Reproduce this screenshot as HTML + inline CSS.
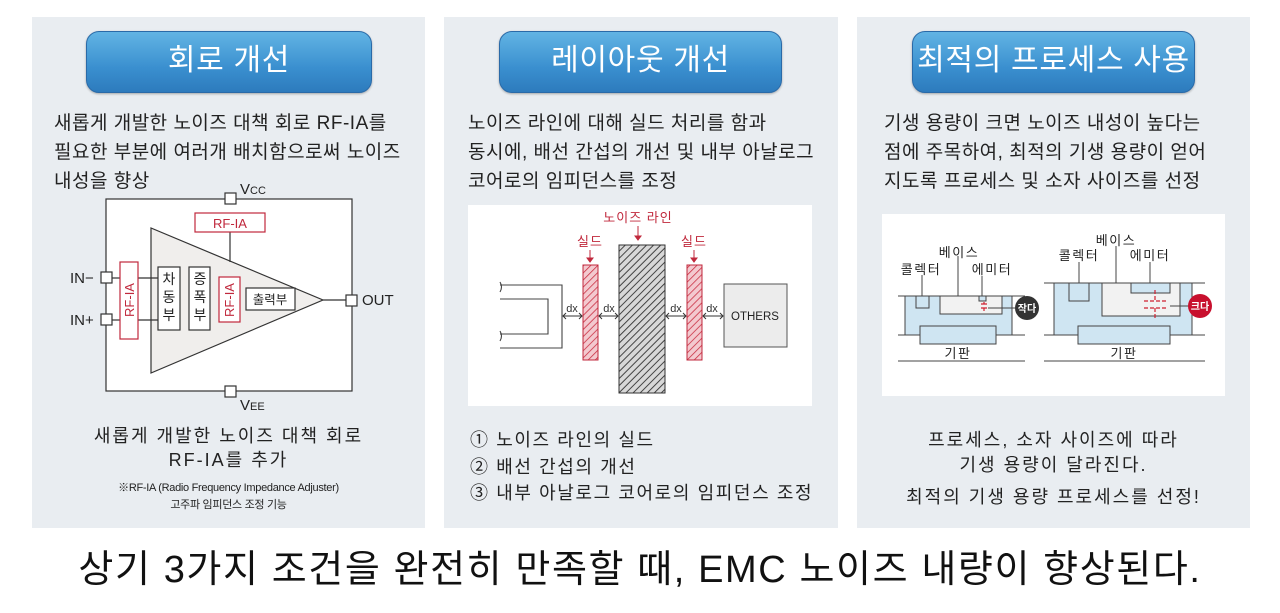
<!DOCTYPE html>
<html><head><meta charset="utf-8">
<style>
body{margin:0;width:1280px;height:613px;background:#fff;position:relative;overflow:hidden;font-family:"Liberation Sans","Noto Sans CJK KR",sans-serif;color:#222}
.p{position:absolute;top:17px;height:511px;background:#e9edf1}
.btn{position:absolute;top:31px;height:60px;border-radius:13px;border:1px solid #2a6aa8;background:linear-gradient(#62b4e4,#3a8fcf 60%,#2d7bbd);color:#fff;font-size:30px;letter-spacing:0.7px;text-align:center;line-height:58px;box-shadow:0 1px 2px rgba(0,0,0,.3)}
.t{position:absolute;font-size:19px;white-space:nowrap;letter-spacing:0.5px;line-height:29px}
.c{text-align:center}
svg{position:absolute;left:0;top:0}
svg text{font-family:"Liberation Sans","Noto Sans CJK KR",sans-serif}
</style></head><body>
<div class="p" style="left:32px;width:393px"></div>
<div class="p" style="left:444px;width:394px"></div>
<div class="p" style="left:857px;width:393px"></div>
<div class="btn" style="left:86px;width:284px">회로 개선</div>
<div class="btn" style="left:499px;width:281px">레이아웃 개선</div>
<div class="btn" style="left:912px;width:281px">최적의 프로세스 사용</div>

<div class="t" style="left:54px;top:109px">새롭게 개발한 노이즈 대책 회로 RF-IA를<br>필요한 부분에 여러개 배치함으로써 노이즈<br>내성을 향상</div>
<div class="t" style="left:468px;top:109px">노이즈 라인에 대해 실드 처리를 함과<br>동시에, 배선 간섭의 개선 및 내부 아날로그<br>코어로의 임피던스를 조정</div>
<div class="t" style="left:884px;top:109px">기생 용량이 크면 노이즈 내성이 높다는<br>점에 주목하여, 최적의 기생 용량이 얻어<br>지도록 프로세스 및 소자 사이즈를 선정</div>

<div class="t c" style="left:32px;width:393px;top:424px;line-height:24px;font-size:18px;letter-spacing:2px">새롭게 개발한 노이즈 대책 회로<br>RF-IA를 추가</div>
<div class="t c" style="left:32px;width:393px;top:480px;line-height:17px;font-size:11px;letter-spacing:-0.3px">※RF-IA (Radio Frequency Impedance Adjuster)<br>고주파 임피던스 조정 기능</div>
<div class="t" style="left:470px;top:427px;line-height:26.5px;font-size:18px;letter-spacing:1.6px">① 노이즈 라인의 실드<br>② 배선 간섭의 개선<br>③ 내부 아날로그 코어로의 임피던스 조정</div>
<div class="t c" style="left:857px;width:393px;top:428px;line-height:25px;font-size:18px;letter-spacing:2px">프로세스, 소자 사이즈에 따라<br>기생 용량이 달라진다.</div>
<div class="t c" style="left:857px;width:393px;top:485px;font-size:18px;line-height:25px;letter-spacing:2px">최적의 기생 용량 프로세스를 선정!</div>
<div class="t c" style="left:0;width:1280px;top:545px;font-size:38px;line-height:50px;letter-spacing:1.6px;color:#111">상기 3가지 조건을 완전히 만족할 때, EMC 노이즈 내량이 향상된다.</div>

<svg width="1280" height="613">
<defs>
<pattern id="hr" width="5" height="5" patternUnits="userSpaceOnUse" patternTransform="rotate(45)"><rect width="5" height="5" fill="#f3c9cf"/><line x1="0" y1="0" x2="0" y2="5" stroke="#c8283c" stroke-width="1.5"/></pattern>
<pattern id="hd" width="5" height="5" patternUnits="userSpaceOnUse" patternTransform="rotate(45)"><rect width="5" height="5" fill="#d8d8d8"/><line x1="0" y1="0" x2="0" y2="5" stroke="#333" stroke-width="1.8"/></pattern>
</defs>
<g stroke="#333" stroke-width="1.2" fill="none">
<rect x="106" y="199" width="246" height="192" fill="#fff"/>
<polygon points="151,228 151,373 323,300" fill="#f0eeec"/>
<line x1="230" y1="232" x2="230" y2="262"/>
<line x1="112" y1="278" x2="120" y2="278"/><line x1="112" y1="320" x2="120" y2="320"/>
<line x1="138" y1="278" x2="158" y2="278"/><line x1="138" y1="320" x2="158" y2="320"/>
<line x1="323" y1="300" x2="346" y2="300"/>
<rect x="158" y="267" width="22" height="63" fill="#fff"/>
<rect x="189" y="267" width="21" height="63" fill="#fff"/>
<rect x="246" y="288" width="49" height="22" fill="#fff"/>
<rect x="225" y="193" width="11" height="11" fill="#fff"/>
<rect x="101" y="272" width="11" height="11" fill="#fff"/>
<rect x="101" y="314" width="11" height="11" fill="#fff"/>
<rect x="346" y="295" width="11" height="11" fill="#fff"/>
<rect x="225" y="386" width="11" height="11" fill="#fff"/>
</g>
<g stroke="#c0283c" stroke-width="1.2" fill="#fff">
<rect x="195" y="213" width="70" height="19"/>
<rect x="120" y="262" width="18" height="77"/>
<rect x="219" y="277" width="21" height="45"/>
</g>
<g fill="#c0283c" font-size="13">
<text x="230" y="228" text-anchor="middle">RF-IA</text>
<text transform="translate(134,300) rotate(-90)" text-anchor="middle">RF-IA</text>
<text transform="translate(234,300) rotate(-90)" text-anchor="middle">RF-IA</text>
</g>
<g fill="#222" font-size="14">
<text x="169" y="284" text-anchor="middle">차</text><text x="169" y="302" text-anchor="middle">동</text><text x="169" y="320" text-anchor="middle">부</text>
<text x="200" y="284" text-anchor="middle">증</text><text x="200" y="302" text-anchor="middle">폭</text><text x="200" y="320" text-anchor="middle">부</text>
<text x="270" y="304" text-anchor="middle" font-size="12.5">출력부</text>
</g>
<g fill="#222" font-size="15">
<text x="240" y="194">V<tspan font-size="11">CC</tspan></text>
<text x="240" y="410">V<tspan font-size="11">EE</tspan></text>
<text x="362" y="305">OUT</text>
<text x="70" y="283">IN−</text>
<text x="70" y="325">IN+</text>
</g>
<rect x="468" y="205" width="344" height="201" fill="#fff"/>
<g stroke="#444" stroke-width="1.1" fill="none">
<path d="M500,285 H562 V348 H500"/><path d="M500,299 H548 V334 H500"/>
<path d="M500,282 q3,5 0,10 M500,331 q3,5 0,10"/>
</g>
<rect x="583" y="265" width="15" height="95" fill="url(#hr)" stroke="#c0283c"/>
<rect x="687" y="265" width="15" height="95" fill="url(#hr)" stroke="#c0283c"/>
<rect x="619" y="245" width="46" height="148" fill="url(#hd)" stroke="#333"/>
<rect x="724" y="284" width="63" height="63" fill="#ececec" stroke="#555"/>
<text x="755" y="320" font-size="11.5" text-anchor="middle" fill="#222">OTHERS</text>
<g stroke="#333" stroke-width="1" fill="none">
<path d="M563,316 H582 M566,313 l-3,3 3,3 M579,313 l3,3 -3,3"/>
<path d="M599,316 H618 M602,313 l-3,3 3,3 M615,313 l3,3 -3,3"/>
<path d="M666,316 H686 M669,313 l-3,3 3,3 M683,313 l3,3 -3,3"/>
<path d="M703,316 H723 M706,313 l-3,3 3,3 M720,313 l3,3 -3,3"/>
</g>
<g font-size="11" fill="#333" text-anchor="middle">
<text x="572" y="312">dx</text><text x="609" y="312">dx</text><text x="676" y="312">dx</text><text x="712" y="312">dx</text>
</g>
<g fill="#c0283c" font-size="13" text-anchor="middle" letter-spacing="1">
<text x="638" y="222">노이즈 라인</text><text x="590" y="246">실드</text><text x="694" y="246">실드</text>
</g>
<g stroke="#c0283c" stroke-width="1" fill="#c0283c">
<line x1="638" y1="226" x2="638" y2="238"/><path d="M635,236 l3,4 3,-4z"/>
<line x1="590" y1="250" x2="590" y2="260"/><path d="M587,258 l3,4 3,-4z"/>
<line x1="694" y1="250" x2="694" y2="260"/><path d="M691,258 l3,4 3,-4z"/>
</g>
<rect x="882" y="214" width="343" height="182" fill="#fff"/>
<g stroke="#444" stroke-width="1" >
<rect x="905" y="296" width="107" height="39" fill="#cfe5f2"/>
<rect x="940" y="296" width="62" height="18" fill="#f2f2f2"/>
<rect x="916" y="296" width="13" height="12" fill="#cfe5f2"/>
<rect x="979" y="296" width="7" height="5" fill="#cfe5f2"/>
<rect x="920" y="326" width="76" height="18" fill="#cfe5f2"/>
<line x1="898" y1="296" x2="1025" y2="296"/><line x1="898" y1="335" x2="905" y2="335"/><line x1="1012" y1="335" x2="1025" y2="335"/>
<line x1="898" y1="361" x2="1025" y2="361"/>
<line x1="922" y1="296" x2="922" y2="275"/><line x1="958" y1="296" x2="958" y2="256"/><line x1="982" y1="296" x2="982" y2="276"/>
<line x1="988" y1="308" x2="1015" y2="308"/>
<rect x="1054" y="283" width="138" height="52" fill="#cfe5f2"/>
<rect x="1102" y="283" width="78" height="33" fill="#f2f2f2"/>
<rect x="1131" y="283" width="39" height="10" fill="#cfe5f2"/>
<rect x="1069" y="283" width="20" height="18" fill="#cfe5f2"/>
<rect x="1078" y="326" width="92" height="18" fill="#cfe5f2"/>
<line x1="1044" y1="283" x2="1205" y2="283"/><line x1="1044" y1="335" x2="1054" y2="335"/><line x1="1192" y1="335" x2="1205" y2="335"/>
<line x1="1044" y1="361" x2="1205" y2="361"/>
<line x1="1079" y1="283" x2="1079" y2="262"/><line x1="1116" y1="283" x2="1116" y2="246"/><line x1="1150" y1="283" x2="1150" y2="262"/>
<line x1="1170" y1="306" x2="1190" y2="306"/>
</g>
<g stroke="#d02030" stroke-width="1.2" fill="none">
<path d="M981,304 h6 M981,308 h6 M984,302 v2 M984,308 v3"/>
<path d="M1144,301 h22 M1144,308 h22 M1155,290 v11 M1155,308 v12" stroke-dasharray="4,2"/>
</g>
<circle cx="1027" cy="308" r="12" fill="#333"/>
<circle cx="1200" cy="306" r="12" fill="#c8102e"/>
<g font-size="10" fill="#fff" text-anchor="middle" font-weight="bold"><text x="1027" y="312">작다</text><text x="1200" y="310">크다</text></g>
<g font-size="13" fill="#222" text-anchor="middle" letter-spacing="1.5">
<text x="921" y="274">콜렉터</text><text x="959" y="257">베이스</text><text x="992" y="274">에미터</text>
<text x="958" y="358">기판</text>
<text x="1079" y="260">콜렉터</text><text x="1116" y="245">베이스</text><text x="1150" y="260">에미터</text>
<text x="1124" y="358">기판</text>
</g>
</svg>
</body></html>
